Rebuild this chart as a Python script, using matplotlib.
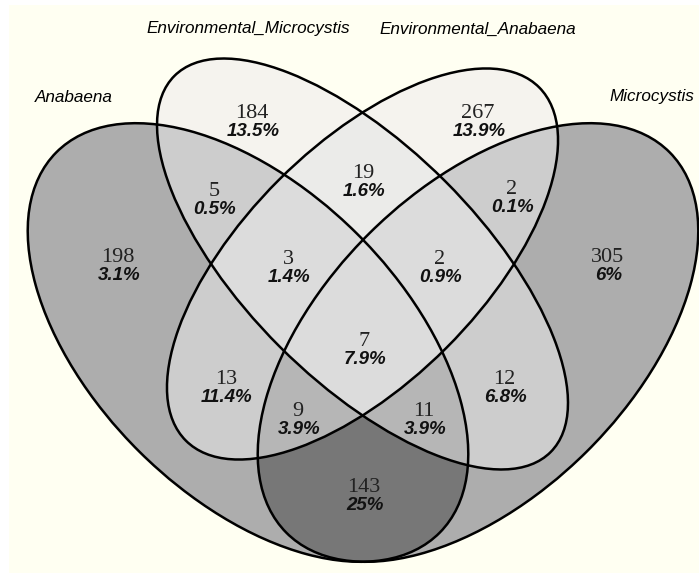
import numpy as np
import matplotlib.pyplot as plt
from matplotlib.patches import Ellipse, Rectangle

# four sets, left to right
set_names = ["Anabaena", "Environmental_Microcystis", "Environmental_Anabaena", "Microcystis"]

# regions as set membership (A=Anabaena, EM, EA, M=Microcystis)
regions = ["A", "EM", "EA", "M", "A+EM", "EM+EA", "EA+M", "A+EM+EA", "EM+EA+M",
           "A+EM+EA+M", "A+EA", "EM+M", "A+EA+M", "A+EM+M", "A+M"]
counts = [198, 184, 267, 305, 5, 19, 2, 3, 2, 7, 13, 12, 9, 11, 143]
percents = ["3.1%", "13.5%", "13.9%", "6%", "0.5%", "1.6%", "0.1%", "1.4%", "0.9%",
            "7.9%", "11.4%", "6.8%", "3.9%", "3.9%", "25%"]

# ellipse geometry in pixel space: cx, cy, semi-major, semi-minor, angle
shapes = {
    "A": (248.0, 342.5, 270.0, 154.0, 44.75),
    "EM": (362.5, 264.0, 266.0, 117.0, 45.0),
    "EA": (362.5, 264.0, 249.8, 118.6, -45.0),
    "M": (478.0, 342.5, 270.0, 154.0, -44.75),
}
bits = {"A": 1, "EM": 2, "EA": 4, "M": 8}

fills = {
    "A": "#adadad", "M": "#adadad",
    "EM": "#f5f3ee", "EA": "#f5f3ee",
    "EM+EA": "#ebebe9",
    "A+EM": "#cdcdcd", "EA+M": "#cdcdcd", "A+EA": "#cdcdcd", "EM+M": "#cdcdcd",
    "A+EM+EA": "#dcdcdc", "EM+EA+M": "#dcdcdc", "A+EM+EA+M": "#dcdcdc",
    "A+EA+M": "#b6b6b6", "A+EM+M": "#b6b6b6",
    "A+M": "#777777",
}

# text centres (number); percent sits ~18 px below
label_pos = {
    "A": (118, 258), "EM": (252, 114), "EA": (478, 114), "M": (608, 258),
    "A+EM": (214, 192), "EM+EA": (363, 174), "EA+M": (512, 190),
    "A+EM+EA": (288, 259), "EM+EA+M": (440, 259), "A+EM+EA+M": (364, 342),
    "A+EA": (226, 380), "EM+M": (504, 380), "A+EA+M": (298, 411),
    "A+EM+M": (424, 411), "A+M": (364, 487),
}
title_pos = [(74, 97), (248, 29), (478, 29), (652, 97)]

W, H = 699, 574
fig = plt.figure(figsize=(W / 100, H / 100), dpi=100)
ax = fig.add_axes([0, 0, 1, 1])
ax.set_xlim(0, W)
ax.set_ylim(H, 0)
ax.axis("off")

ax.add_patch(Rectangle((9, 5), W - 9, 568, facecolor="#fffff2", edgecolor="none", zorder=0))

# region fill raster
xs = np.linspace(0, W, W * 2)
ys = np.linspace(0, H, H * 2)
X, Y = np.meshgrid(xs, ys)
mask = np.zeros(X.shape, dtype=int)
for key, (cx, cy, a, b, ang) in shapes.items():
    t = np.deg2rad(ang)
    u = (X - cx) * np.cos(t) + (Y - cy) * np.sin(t)
    v = -(X - cx) * np.sin(t) + (Y - cy) * np.cos(t)
    mask[(u / a) ** 2 + (v / b) ** 2 <= 1] += bits[key]

rgba = np.zeros(X.shape + (4,))
for reg in regions:
    m = sum(bits[s] for s in reg.split("+"))
    c = fills[reg]
    rgba[mask == m] = [int(c[i:i + 2], 16) / 255 for i in (1, 3, 5)] + [1]
ax.imshow(rgba, extent=(0, W, H, 0), interpolation="nearest", zorder=1)

for key, (cx, cy, a, b, ang) in shapes.items():
    ax.add_patch(Ellipse((cx, cy), 2 * a, 2 * b, angle=ang, fill=False,
                         edgecolor="black", lw=1.8, zorder=2))

for reg, n, p in zip(regions, counts, percents):
    x, y = label_pos[reg]
    ax.text(x, y, str(n), ha="center", va="center", fontsize=16,
            family="Liberation Serif", color="#222222", zorder=3)
    ax.text(x + 1, y + 18, p, ha="center", va="center", fontsize=13.5,
            family="Liberation Sans", weight="bold", style="italic",
            color="#111111", zorder=3)

for name, (x, y) in zip(set_names, title_pos):
    ax.text(x, y, name, ha="center", va="center", fontsize=12.3,
            family="Liberation Sans", style="italic", color="black", zorder=3)

fig.savefig("out.png", dpi=100)
